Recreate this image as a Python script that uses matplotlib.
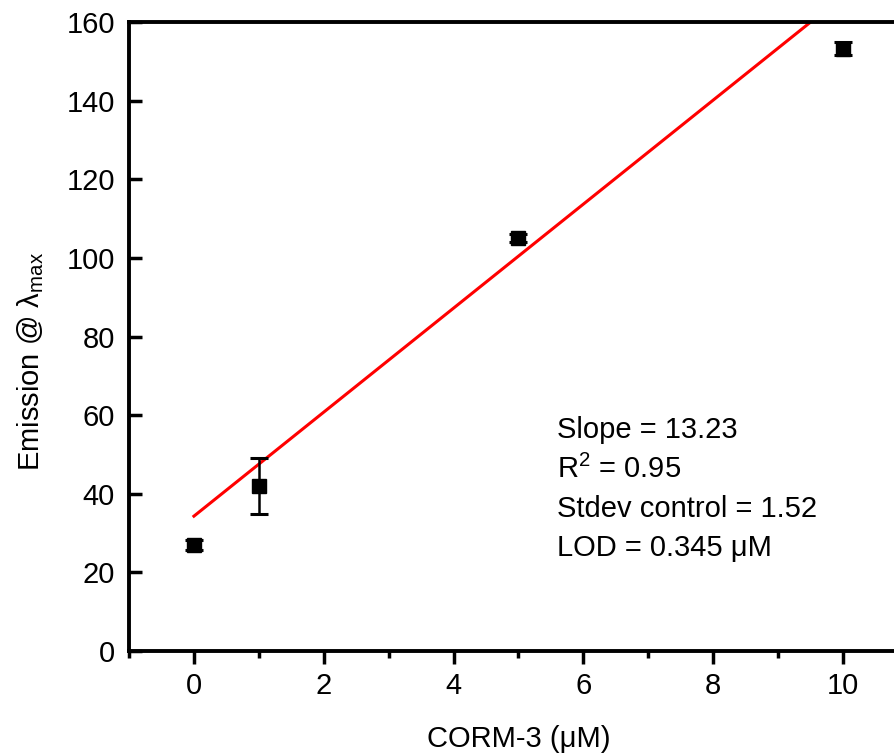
import matplotlib
matplotlib.use('Agg')
import matplotlib.pyplot as plt
import numpy as np

plt.rcParams['font.family'] = ['Liberation Sans', 'DejaVu Sans']
plt.rcParams['mathtext.fontset'] = 'custom'
plt.rcParams['mathtext.rm'] = 'Liberation Sans'
plt.rcParams['mathtext.it'] = 'Liberation Sans'

# data
conc = [0, 1, 5, 10]
emission = [27.0, 42.0, 105.1, 153.2]
err = [1.3, 7.2, 1.1, 1.6]
slope = 13.23
intercept = 34.3
fit_x = [0, 10]
stats = ["Slope = 13.23", "R$^2$ = 0.95", "Stdev control = 1.52", "LOD = 0.345 μM"]

fig = plt.figure(figsize=(8.95, 7.55), dpi=100)
ax = fig.add_axes([129 / 895, 104 / 755, 779 / 895, 629 / 755])

fx = np.array(fit_x)
ax.plot(fx, slope * fx + intercept, color='#ff0000', lw=2.2, zorder=2)
ax.errorbar(conc, emission, yerr=err, fmt='s', color='black', ms=9.5,
            ecolor='black', elinewidth=1.8, capsize=6.5, capthick=2.2, zorder=3)

ax.set_xlim(-1, 11)
ax.set_ylim(0, 160)
ax.set_xticks([0, 2, 4, 6, 8, 10])
ax.set_xticks(np.arange(-1, 11, 2), minor=True)
ax.set_yticks(np.arange(0, 161, 20))

for s in ax.spines.values():
    s.set_linewidth(2.8)
ax.tick_params(axis='x', which='major', direction='out', length=9, width=2.5,
               labelsize=21, pad=6)
ax.tick_params(axis='x', which='minor', direction='out', length=5, width=2.5)
ax.tick_params(axis='y', which='major', direction='in', length=9, width=2.5,
               labelsize=21, pad=10)

ax.set_xlabel('CORM-3 (μM)', fontsize=21, labelpad=18)
ax.set_ylabel('Emission @ λ$_{\\mathrm{max}}$', fontsize=21)
ax.yaxis.set_label_coords(-0.106, 0.46)

for i, t in enumerate(stats):
    ax.text(5.6, 56.2 - i * 10.0, t, fontsize=21, ha='left', va='center')

fig.savefig('out.png', dpi=100)
